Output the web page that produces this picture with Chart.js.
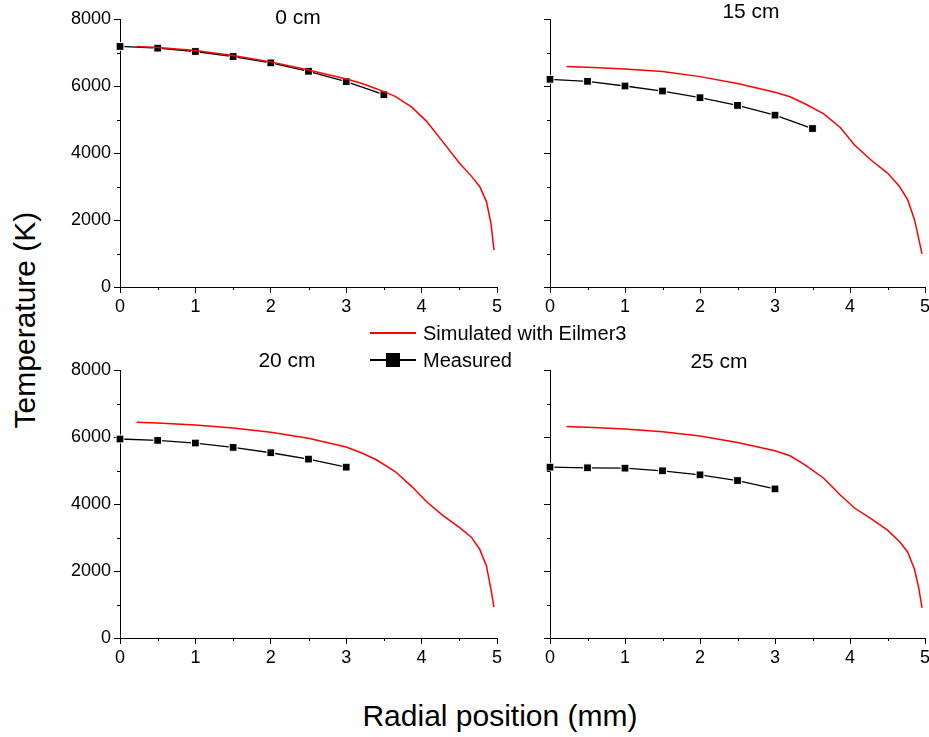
<!DOCTYPE html>
<html>
<head>
<meta charset="utf-8">
<script src="https://cdn.jsdelivr.net/npm/chart.js@4.4.0/dist/chart.umd.min.js"></script>
<style>
  body { margin: 0; width: 929px; height: 737px; background: #fff; overflow: hidden; position: relative;
         font-family: "Liberation Sans", Arial, sans-serif; color: #000; }
  canvas { position: absolute; }
  .lbl { position: absolute; white-space: nowrap; line-height: 1; transform: translate(-50%, -50%); }
  .ttl { font-size: 21px; }
  .leg { position: absolute; font-size: 20px; line-height: 1; transform: translateY(-50%); white-space: nowrap; }
</style>
</head>
<body>
<canvas id="p0" width="450" height="320" style="left:60px;top:0px"></canvas>
<canvas id="p15" width="410" height="320" style="left:530px;top:0px"></canvas>
<canvas id="p20" width="450" height="320" style="left:60px;top:351px"></canvas>
<canvas id="p25" width="410" height="320" style="left:530px;top:351px"></canvas>

<div class="lbl ttl" style="left:298px;top:16px">0 cm</div>
<div class="lbl ttl" style="left:751px;top:10px">15 cm</div>
<div class="lbl ttl" style="left:287px;top:359px">20 cm</div>
<div class="lbl ttl" style="left:719px;top:360px">25 cm</div>

<div style="position:absolute;left:370px;top:332px;width:46px;height:1.5px;background:#ff0000"></div>
<div class="leg" style="left:423px;top:333px">Simulated with Eilmer3</div>
<div style="position:absolute;left:370px;top:359px;width:46px;height:1.5px;background:#000"></div>
<div style="position:absolute;left:386px;top:353px;width:14px;height:14px;background:#000"></div>
<div class="leg" style="left:423px;top:360px">Measured</div>

<div class="lbl" style="left:25px;top:320px;font-size:30px;transform:translate(-50%,-50%) rotate(-90deg)">Temperature (K)</div>
<div class="lbl" style="left:500px;top:716px;font-size:30px">Radial position (mm)</div>

<script>
// Radial positions (mm)
const radiusMeasured = [0, 0.5, 1, 1.5, 2, 2.5, 3, 3.5];
const radiusSimulated = [0.22, 0.5, 1, 1.5, 2, 2.5, 3, 3.2, 3.4, 3.65, 3.87, 4.06, 4.28, 4.5, 4.66, 4.77, 4.86, 4.92, 4.96];

// Measured temperatures (K)
const measured0 = [7180, 7130, 7030, 6880, 6690, 6440, 6130, 5740];
const measured15 = [6200, 6140, 6000, 5850, 5650, 5420, 5130, 4730];
const measured20 = [5940, 5900, 5820, 5690, 5530, 5340, 5100];
const measured25 = [5100, 5080, 5070, 4990, 4870, 4700, 4450];

// Simulated with Eilmer3 (K)
const simulated0 = [7180, 7150, 7060, 6910, 6720, 6480, 6210, 6080, 5920, 5690, 5370, 4960, 4340, 3700, 3310, 3000, 2550, 1900, 1100];
const simulated15 = [6580, 6560, 6510, 6430, 6280, 6075, 5815, 5680, 5470, 5170, 4760, 4240, 3790, 3400, 3000, 2600, 2010, 1400, 990];
const simulated20 = [6440, 6420, 6360, 6270, 6140, 5960, 5700, 5530, 5320, 4970, 4520, 4080, 3660, 3300, 3010, 2650, 2150, 1450, 920];
const simulated25 = [6310, 6290, 6240, 6160, 6030, 5835, 5590, 5440, 5170, 4770, 4270, 3880, 3560, 3220, 2880, 2560, 2050, 1450, 900];

// Tick values
const xMinor = [0.5, 1.5, 2.5, 3.5, 4.5];
const yMinor = [1000, 3000, 5000, 7000];

function toPoints(xs, ys) {
    return ys.map((y, i) => ({ x: xs[i], y: y }));
}

// Petits traits pour les graduations secondaires
const minorTicks = {
    id: 'minorTicks',
    afterDraw(chart) {
        const ctx = chart.ctx;
        const xs = chart.scales.x;
        const ys = chart.scales.y;
        ctx.save();
        ctx.strokeStyle = '#000';
        ctx.lineWidth = 1;
        ctx.beginPath();
        xMinor.forEach(v => {
            const px = Math.round(xs.getPixelForValue(v)) + 0.5;
            ctx.moveTo(px, chart.chartArea.bottom);
            ctx.lineTo(px, chart.chartArea.bottom + 3);
        });
        yMinor.forEach(v => {
            const py = Math.round(ys.getPixelForValue(v)) + 0.5;
            ctx.moveTo(chart.chartArea.left - 3, py);
            ctx.lineTo(chart.chartArea.left, py);
        });
        ctx.stroke();
        ctx.restore();
    }
};

function generatePanel(id, measured, simulated, showYLabels) {
    const yWidth = showYLabels ? 60 : 20;
    const rightPad = showYLabels ? 13 : 15;
    const tickFont = { family: '"Liberation Sans", Arial, sans-serif', size: 18 };

    new Chart(document.getElementById(id), {
        type: 'scatter',
        data: {
            datasets: [{
                label: 'Simulated with Eilmer3',
                data: toPoints(radiusSimulated, simulated),
                showLine: true,
                borderColor: '#ff0000',
                borderWidth: 1.5,
                pointRadius: 0,
                tension: 0
            }, {
                label: 'Measured',
                data: toPoints(radiusMeasured, measured),
                showLine: true,
                borderColor: '#000',
                borderWidth: 1.3,
                pointStyle: 'rect',
                pointRadius: 5.5,
                pointBackgroundColor: '#000',
                pointBorderColor: '#fff',
                pointBorderWidth: 1,
                clip: false
            }]
        },
        options: {
            responsive: false,
            animation: false,
            layout: { padding: { top: 19, right: rightPad, left: 0, bottom: 0 } },
            plugins: { legend: { display: false }, tooltip: { enabled: false } },
            scales: {
                x: {
                    type: 'linear',
                    min: 0,
                    max: 5,
                    ticks: { stepSize: 1, color: '#000', font: tickFont, padding: 3, maxRotation: 0 },
                    grid: { drawOnChartArea: false, color: '#000', tickLength: 6 },
                    border: { display: true, color: '#000', width: 1 },
                    afterFit: s => { s.height = 33; }
                },
                y: {
                    min: 0,
                    max: 8000,
                    ticks: {
                        stepSize: 2000,
                        color: '#000',
                        font: tickFont,
                        padding: 3,
                        callback: v => showYLabels ? String(v) : ''
                    },
                    grid: { drawOnChartArea: false, color: '#000', tickLength: 6 },
                    border: { display: true, color: '#000', width: 1 },
                    afterFit: s => { s.width = yWidth; }
                }
            }
        },
        plugins: [minorTicks]
    });
}

generatePanel('p0', measured0, simulated0, true);
generatePanel('p15', measured15, simulated15, false);
generatePanel('p20', measured20, simulated20, true);
generatePanel('p25', measured25, simulated25, false);
</script>
</body>
</html>
